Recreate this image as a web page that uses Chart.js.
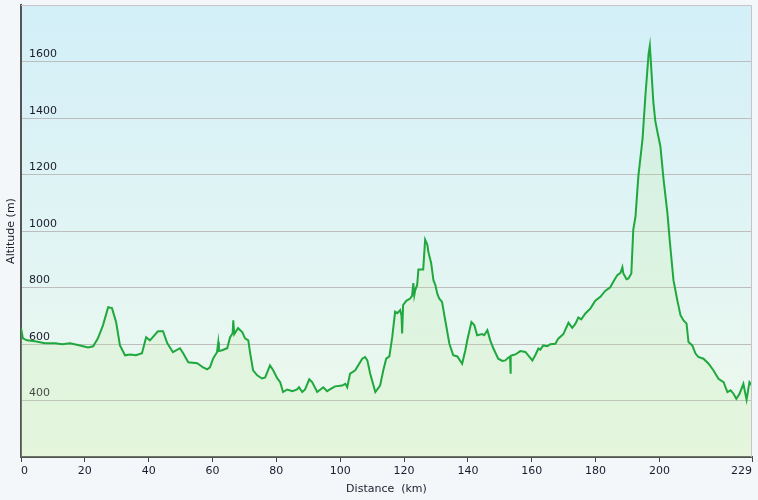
<!DOCTYPE html>
<html><head><meta charset="utf-8">
<script src="https://cdn.jsdelivr.net/npm/chart.js@4/dist/chart.umd.min.js"></script>
<style>html,body{margin:0;padding:0;background:#f3f7fa;}canvas{display:block}</style>
</head><body>
<canvas id="c" width="758" height="500"></canvas>
<script>
const distanceKm = [0,0.6,1.9,4.4,7.5,10.7,12.9,15.4,18.5,21,22.6,24.1,25.7,27.3,28.5,29.8,31,32.6,34.2,36,37.9,39.2,
40.4,42.9,44.5,45.8,47.6,49.8,50.8,52.4,55.2,57.1,58.3,59.2,60.2,61.4,61.8,62.0,63,64.6,65.5,66.3,66.5,66.8,68,69.3,70.2,71.2,71.8,72.7,74,75.5,76.5,78,79,80.3,
81.2,82.1,83.4,85,86.5,87.1,88.1,89,90.3,91.2,92.8,94.7,95.9,96.9,98.4,100.6,101.6,102.2,103.1,104.7,106.9,107.8,108.5,109.4,111,112.5,113.5,114.4,115.4,116.3,117.2,117.9,118.8,119.2,119.4,119.7,120.7,121.9,
122.5,122.9,123.2,123.5,124.1,124.5,126,126.6,127.3,127.6,128.5,129.2,129.8,130.4,131,131.9,132.9,134.2,135.4,136.7,138.2,139.2,139.8,141.1,142,142.9,144.5,145.1,146.1,147,148,149.5,150.8,151.7,152.7,153.2,153.3,153.5,153.9,154.9,156.4,158,158.9,160.2,161.1,162.1,
162.7,163.6,164.9,165.8,167.4,168.3,169.9,171.5,172.7,173.7,174.6,175.5,176.8,178.4,179.9,181.5,183,184.6,185.6,186.8,187.8,188.4,188.7,189.7,190.3,191.2,191.8,192.5,193.4,194.7,195.6,196.6,197,197.3,198.1,198.7,199.4,
200.3,201.3,202.5,203.4,204.4,205.6,206.6,207.5,208.5,209.1,210.3,211.3,212.2,213.8,215.4,216.9,218.5,220.1,221.3,222.3,223.2,224.1,225.1,226.3,227.3,228.2,229];
const altitudeM = [656,620,613,610,603,603,599,603,595,588,592,620,667,730,727,677,595,560,563,560,567,624,
613,645,645,603,571,585,567,535,532,517,510,517,549,571,606,575,578,585,624,638,684,635,656,642,620,613,567,507,489,478,482,524,507,478,
465,430,439,433,439,447,430,439,475,465,430,447,433,440,450,453,459,447,495,507,548,554,542,495,430,453,507,548,556,625,714,709,720,700,637,738,753,761,
770,816,773,791,809,864,864,969,951,927,886,826,809,779,761,749,684,601,560,556,530,578,613,678,667,631,635,631,649,613,584,548,540,542,552,555,495,558,560,563,575,572,560,542,560,584,
580,595,592,599,601,619,635,675,657,672,694,687,708,726,753,767,788,801,821,844,852,872,850,829,832,850,1004,1051,1194,1324,1478,1626,1656,1602,1455,1390,1349,
1300,1182,1063,945,826,755,702,684,672,607,595,566,554,548,530,507,477,465,430,436,424,406,424,459,403,465,453];
const xTickValues = [0,20,40,60,80,100,120,140,160,180,200,229];
const yTickValues = [400,600,800,1000,1200,1400,1600];
const xRange = [0,229];
const yRange = [200,1800];

const textColor = '#1b1b2b';
const fontSpec = {family:'"DejaVu Sans", Verdana, sans-serif', size:11};

const bgPlugin = {
  id:'bg',
  beforeDraw(chart){
    const {ctx, chartArea:a} = chart;
    ctx.save();
    const g = ctx.createLinearGradient(0,a.top,0,a.bottom);
    g.addColorStop(0,'#d3eff8');
    g.addColorStop(0.55,'#e2f5f4');
    g.addColorStop(1,'#eff9ec');
    ctx.fillStyle = g;
    ctx.fillRect(a.left,a.top,a.right-a.left,a.bottom-a.top);
    ctx.restore();
  },
  afterDraw(chart){
    const {ctx, chartArea:a} = chart;
    ctx.save();
    ctx.strokeStyle = '#c8c3cb';
    ctx.lineWidth = 1;
    ctx.beginPath();
    ctx.moveTo(a.left, a.top+0.5);
    ctx.lineTo(a.right-0.5, a.top+0.5);
    ctx.lineTo(a.right-0.5, a.bottom);
    ctx.stroke();
    ctx.restore();
  }
};

new Chart(document.getElementById('c'), {
  type:'line',
  data:{datasets:[{
    data: distanceKm.map((d,i)=>({x:d,y:altitudeM[i]})),
    borderColor:'#1fa83d',
    borderWidth:2,
    pointRadius:0,
    tension:0,
    fill:'start',
    backgroundColor:'rgba(195,238,165,0.22)'
  }]},
  options:{
    responsive:false,
    animation:false,
    plugins:{legend:{display:false}, tooltip:{enabled:false}},
    layout:{padding:{top:5,right:6,left:0,bottom:0}},
    scales:{
      x:{
        type:'linear', min:xRange[0], max:xRange[1],
        afterBuildTicks:s=>{s.ticks = xTickValues.map(v=>({value:v}));},
        afterFit:s=>{s.height = 43; s.paddingLeft = 0; s.paddingRight = 0;},
        grid:{drawOnChartArea:false, drawTicks:true, tickLength:5, tickColor:'#444', tickWidth:1},
        border:{color:'#555', width:2},
        ticks:{color:textColor, font:fontSpec, padding:3, maxRotation:0, autoSkip:false, align:'inner', callback:v=>String(v)},
        title:{display:true, text:'Distance  (km)', color:textColor, font:fontSpec, padding:{top:0,bottom:4}}
      },
      y:{
        type:'linear', min:yRange[0], max:yRange[1],
        afterBuildTicks:s=>{s.ticks = yTickValues.map(v=>({value:v}));},
        afterFit:s=>{s.width = 21; s.paddingTop = 0; s.paddingBottom = 0;},
        grid:{color:'#bdbdbd', lineWidth:1, drawTicks:false},
        border:{color:'#555', width:2},
        ticks:{mirror:true, padding:8, labelOffset:-7, color:textColor, font:fontSpec, callback:v=>String(v)},
        title:{display:true, text:'Altitude (m)', color:textColor, font:fontSpec, padding:{top:4.5,bottom:0}}
      }
    }
  },
  plugins:[bgPlugin]
});
</script>
</body></html>
